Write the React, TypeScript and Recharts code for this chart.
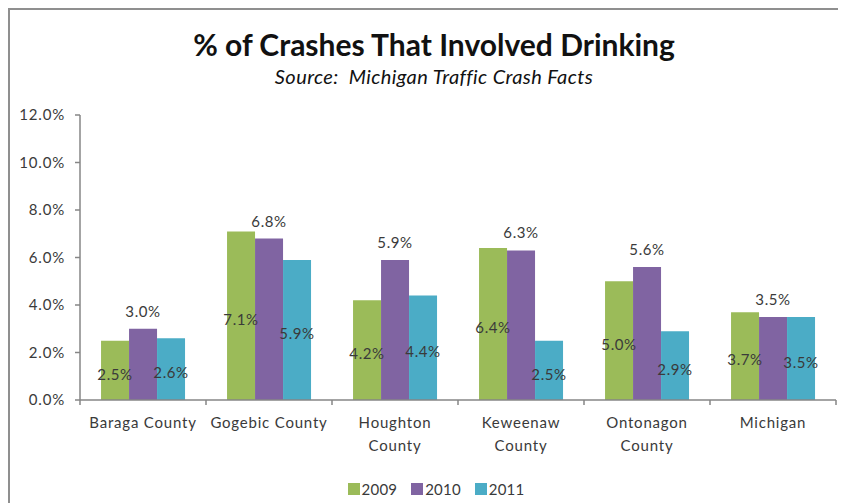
import React from 'react';
import { BarChart, Bar, XAxis, YAxis, LabelList } from 'recharts';

const categories = [
  'Baraga County',
  'Gogebic County',
  'Houghton\nCounty',
  'Keweenaw\nCounty',
  'Ontonagon\nCounty',
  'Michigan',
];
const values2009 = [2.5, 7.1, 4.2, 6.4, 5.0, 3.7];
const values2010 = [3.0, 6.8, 5.9, 6.3, 5.6, 3.5];
const values2011 = [2.6, 5.9, 4.4, 2.5, 2.9, 3.5];
const yTicks = [0, 2, 4, 6, 8, 10, 12];
const seriesNames = ['2009', '2010', '2011'];
const seriesKeys = ['y2009', 'y2010', 'y2011'];
const seriesColors = ['#9BBB59', '#8064A2', '#4BACC6'];
const labelPositions: ('center' | 'top')[] = ['center', 'top', 'center'];

const data = categories.map((name, i) => ({
  name,
  y2009: values2009[i],
  y2010: values2010[i],
  y2011: values2011[i],
}));

const FONT = 'Lato, "Open Sans", sans-serif';
const AXIS = '#868686';
const TEXT = '#3a3a3a';

const fmt = (v: any) => Number(v).toFixed(1) + '%';

const CategoryTick = (props: any) => {
  const { x, y, payload, index, visibleTicksCount } = props;
  const half = payload && payload.offset ? payload.offset : 63;
  const lines = String(payload.value).split('\n');
  return (
    <g>
      <line x1={x - half} x2={x - half} y1={y} y2={y + 5} stroke={AXIS} strokeWidth={1.5} />
      {index === visibleTicksCount - 1 && (
        <line x1={x + half} x2={x + half} y1={y} y2={y + 5} stroke={AXIS} strokeWidth={1.5} />
      )}
      <text
        x={x}
        y={y + 28}
        textAnchor="middle"
        fill={TEXT}
        fontSize={15}
        letterSpacing={0.8}
        fontFamily={FONT}
      >
        {lines.map((l, i) => (
          <tspan key={i} x={x} dy={i === 0 ? 0 : 23}>
            {l}
          </tspan>
        ))}
      </text>
    </g>
  );
};

export default function App() {
  return (
    <div style={{ position: 'relative', width: 838, height: 495, fontFamily: FONT, overflow: 'hidden' }}>
      <div
        style={{
          position: 'absolute',
          left: 0,
          top: 0,
          width: 900,
          height: 600,
          borderTop: '2px solid #8f8f8f',
          borderLeft: '2px solid #8f8f8f',
          boxSizing: 'border-box',
        }}
      />
      <div
        style={{
          position: 'absolute',
          left: 0,
          top: 18,
          width: 852,
          textAlign: 'center',
          fontSize: 30,
          lineHeight: '36px',
          fontWeight: 700,
          color: '#111',
        }}
      >
        % of Crashes That Involved Drinking
      </div>
      <div
        style={{
          position: 'absolute',
          left: 0,
          top: 56,
          width: 852,
          textAlign: 'center',
          fontSize: 20,
          lineHeight: '24px',
          letterSpacing: 0.4,
          fontStyle: 'italic',
          color: '#111',
        }}
      >
        Source:&nbsp; Michigan Traffic Crash Facts
      </div>
      <div style={{ position: 'absolute', left: 0, top: 0 }}>
        <BarChart
          width={838}
          height={495}
          data={data}
          margin={{ top: 107, right: 10, left: 0, bottom: 43 }}
          barCategoryGap="16.7%"
          barGap={0}
        >
          <XAxis
            dataKey="name"
            interval={0}
            height={60}
            tickLine={false}
            tickSize={0}
            tickMargin={0}
            axisLine={{ stroke: AXIS, strokeWidth: 1.5 }}
            tick={<CategoryTick />}
          />
          <YAxis
            width={72}
            domain={[0, 12]}
            ticks={yTicks}
            interval={0}
            tickFormatter={fmt}
            tickSize={5}
            tickMargin={10}
            axisLine={{ stroke: AXIS, strokeWidth: 1.5 }}
            tickLine={{ stroke: AXIS, strokeWidth: 1.5 }}
            tick={{ fill: TEXT, fontSize: 15, fontFamily: FONT, letterSpacing: 0.8 }}
          />
          {seriesKeys.map((k, i) => (
            <Bar key={k} dataKey={k} name={seriesNames[i]} fill={seriesColors[i]} isAnimationActive={false}>
              <LabelList
                dataKey={k}
                position={labelPositions[i]}
                offset={12}
                dy={labelPositions[i] === 'center' ? 4 : 0}
                formatter={fmt}
                fill={TEXT}
                fontSize={15}
                letterSpacing={0.6}
                fontFamily={FONT}
              />
            </Bar>
          ))}
        </BarChart>
      </div>
      <div
        style={{
          position: 'absolute',
          top: 472,
          left: 0,
          width: 838,
          display: 'flex',
          justifyContent: 'center',
          paddingLeft: 18,
          boxSizing: 'border-box',
        }}
      >
        {seriesNames.map((n, i) => (
          <div key={n} style={{ display: 'flex', alignItems: 'center', marginRight: i < 2 ? 14 : 0 }}>
            <div style={{ width: 12, height: 12, background: seriesColors[i], marginRight: 2 }} />
            <span style={{ fontSize: 15, letterSpacing: 0.2, color: TEXT }}>{n}</span>
          </div>
        ))}
      </div>
    </div>
  );
}
